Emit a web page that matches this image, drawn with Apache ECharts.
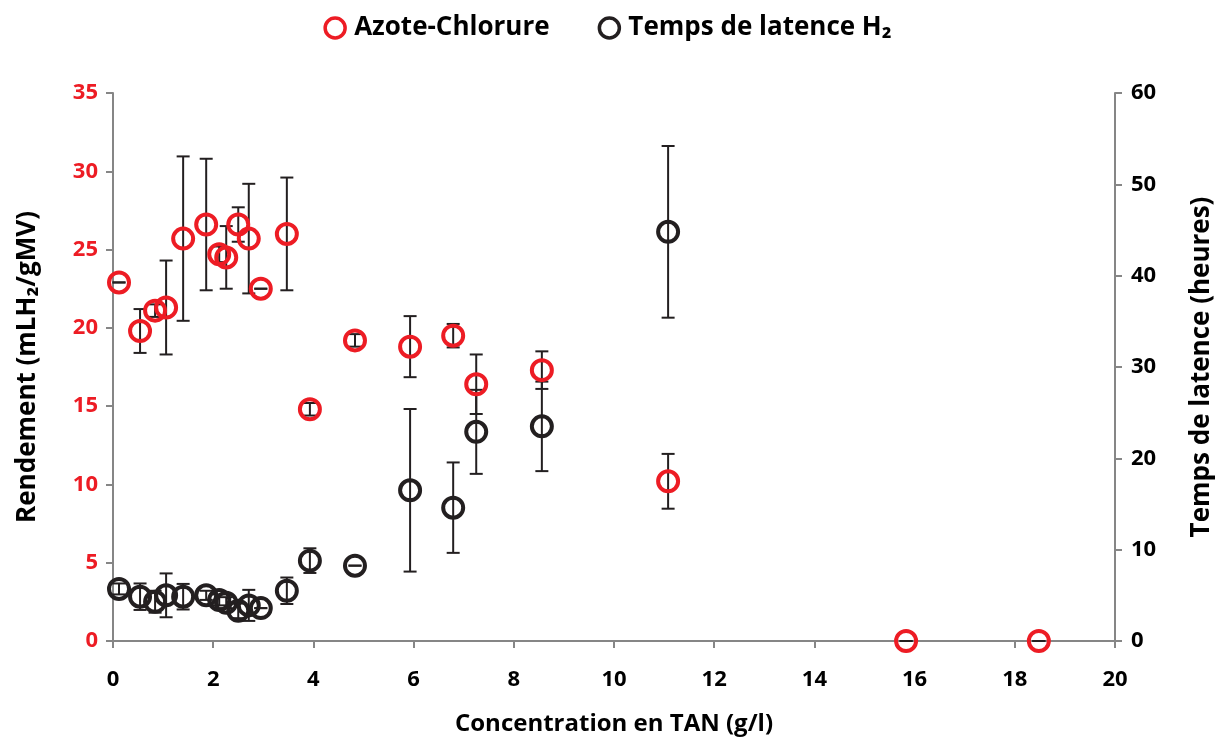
<!DOCTYPE html>
<html>
<head>
<meta charset="utf-8">
<script src="https://cdn.jsdelivr.net/npm/echarts@6/dist/echarts.min.js"></script>
<style>
html,body{margin:0;padding:0;background:#fff;}
#chart{width:1215px;height:737px;}
</style>
</head>
<body>
<div id="chart"></div>
<script>
// Concentration en TAN (g/l)
const tanRed = [0.12, 0.54, 0.84, 1.06, 1.40, 1.86, 2.12, 2.26, 2.50, 2.71, 2.95, 3.47, 3.93, 4.83, 5.93, 6.79, 7.25, 8.56, 11.08, 15.83, 18.48];
// Rendement (mLH2/gMV)
const rendement = [22.9, 19.8, 21.1, 21.3, 25.7, 26.6, 24.7, 24.5, 26.6, 25.7, 22.5, 26.0, 14.8, 19.2, 18.8, 19.5, 16.4, 17.3, 10.2, 0, 0];
const rendementErr = [0, 1.4, 0.4, 3.0, 5.25, 4.2, 0.5, 2.0, 1.1, 3.5, 0, 3.6, 0.4, 0.4, 1.95, 0.75, 1.9, 1.2, 1.75, 0, 0];
// Temps de latence (heures)
const tanBlack = [0.12, 0.54, 0.84, 1.06, 1.40, 1.86, 2.12, 2.26, 2.50, 2.71, 2.95, 3.47, 3.93, 4.83, 5.93, 6.79, 7.25, 8.56, 11.08];
const latence = [5.7, 4.85, 4.3, 5.0, 4.85, 5.0, 4.5, 4.2, 3.3, 3.9, 3.6, 5.5, 8.8, 8.25, 16.5, 14.6, 22.9, 23.5, 44.8];
const latenceErr = [0.6, 1.45, 1.2, 2.4, 1.4, 0.5, 0.6, 0.6, 0.8, 1.7, 0, 1.45, 1.35, 0, 8.9, 4.95, 4.6, 4.9, 9.4];

const RED = '#ed1c24';
const BLACK = '#231f20';
const FONT = 'Open Sans';

const redPts = tanRed.map((x, i) => [x, rendement[i]]);
const redErr = tanRed.map((x, i) => [x, rendement[i] - rendementErr[i], rendement[i] + rendementErr[i]]);
const blackPts = tanBlack.map((x, i) => [x, latence[i]]);
const blackErr = tanBlack.map((x, i) => [x, latence[i] - latenceErr[i], latence[i] + latenceErr[i]]);

function errRender(params, api) {
  const x = api.value(0);
  const top = api.coord([x, api.value(2)]);
  const bot = api.coord([x, api.value(1)]);
  const hw = 6.5;
  const st = {stroke: BLACK, lineWidth: 2};
  return {
    type: 'group',
    children: [
      {type: 'line', shape: {x1: top[0], y1: top[1], x2: bot[0], y2: bot[1]}, style: st},
      {type: 'line', shape: {x1: top[0] - hw, y1: top[1], x2: top[0] + hw, y2: top[1]}, style: st},
      {type: 'line', shape: {x1: bot[0] - hw, y1: bot[1], x2: bot[0] + hw, y2: bot[1]}, style: st}
    ]
  };
}

const chart = echarts.init(document.getElementById('chart'));
const axisLineStyle = {show: true, lineStyle: {color: '#868686', width: 2}};
const axisTickStyle = {show: true, inside: false, length: 7, lineStyle: {color: '#868686', width: 2}};
const boldText = {fontFamily: FONT, fontWeight: 'bold', color: '#000'};

chart.setOption({
  animation: false,
  backgroundColor: '#fff',
  textStyle: {fontFamily: FONT},
  grid: {left: 113, right: 100, top: 93, bottom: 96, containLabel: false, outerBoundsMode: 'none'},
  legend: {
    top: 10,
    left: 'center',
    itemGap: 48,
    itemWidth: 20,
    itemHeight: 20,
    textStyle: Object.assign({fontSize: 26, padding: [0, 0, 0, 4]}, boldText),
    data: [
      {name: 'Azote-Chlorure', icon: 'circle', itemStyle: {color: 'rgba(0,0,0,0)', borderColor: RED, borderWidth: 3.5, opacity: 1}},
      {name: 'Temps de latence H₂', icon: 'circle', itemStyle: {color: 'rgba(0,0,0,0)', borderColor: BLACK, borderWidth: 3.5, opacity: 1}}
    ]
  },
  xAxis: {
    type: 'value',
    min: 0, max: 20, interval: 2,
    name: 'Concentration en TAN (g/l)',
    nameLocation: 'middle',
    nameGap: 71,
    nameTextStyle: Object.assign({fontSize: 24}, boldText),
    axisLine: axisLineStyle,
    axisTick: axisTickStyle,
    splitLine: {show: false},
    axisLabel: Object.assign({fontSize: 22, margin: 28}, boldText)
  },
  yAxis: [
    {
      type: 'value',
      min: 0, max: 35, interval: 5,
      name: 'Rendement (mLH₂/gMV)',
      nameLocation: 'middle',
      nameGap: 72,
      nameTextStyle: Object.assign({fontSize: 26}, boldText),
      axisLine: axisLineStyle,
      axisTick: axisTickStyle,
      splitLine: {show: false},
      axisLabel: Object.assign({}, boldText, {fontSize: 22, margin: 15, color: RED})
    },
    {
      type: 'value',
      min: 0, max: 60, interval: 10,
      name: 'Temps de latence (heures)',
      nameLocation: 'middle',
      nameGap: 74,
      nameTextStyle: Object.assign({fontSize: 26}, boldText),
      axisLine: axisLineStyle,
      axisTick: axisTickStyle,
      splitLine: {show: false},
      axisLabel: Object.assign({fontSize: 22, margin: 16}, boldText)
    }
  ],
  series: [
    {
      name: 'Temps de latence H₂ err',
      type: 'custom',
      xAxisIndex: 0, yAxisIndex: 1,
      renderItem: errRender,
      data: blackErr,
      clip: false,
      z: 3,
      silent: true
    },
    {
      name: 'Temps de latence H₂',
      type: 'scatter',
      xAxisIndex: 0, yAxisIndex: 1,
      symbol: 'circle',
      symbolSize: 20,
      itemStyle: {color: 'rgba(0,0,0,0)', borderColor: BLACK, borderWidth: 4, opacity: 1},
      data: blackPts,
      z: 4
    },
    {
      name: 'Azote-Chlorure err',
      type: 'custom',
      xAxisIndex: 0, yAxisIndex: 0,
      renderItem: errRender,
      data: redErr,
      clip: false,
      z: 5,
      silent: true
    },
    {
      name: 'Azote-Chlorure',
      type: 'scatter',
      xAxisIndex: 0, yAxisIndex: 0,
      symbol: 'circle',
      symbolSize: 20,
      itemStyle: {color: 'rgba(0,0,0,0)', borderColor: RED, borderWidth: 4, opacity: 1},
      data: redPts,
      z: 6
    }
  ]
});
</script>
</body>
</html>
